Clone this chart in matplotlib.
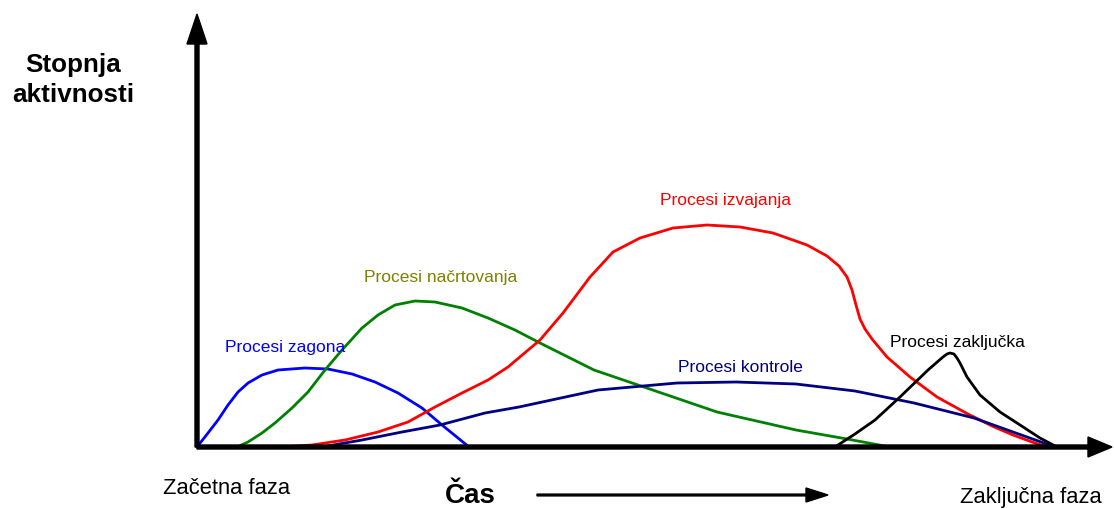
import matplotlib
matplotlib.use('Agg')
import matplotlib.pyplot as plt

plt.rcParams['font.family'] = ['Liberation Sans', 'DejaVu Sans']

# curves: time (t) and activity level (a)
zagonT = [0, 11, 21, 31, 41, 51, 65, 81, 108, 131, 155, 178, 201, 225, 245, 261, 272]
zagonA = [0, 14, 27, 42, 55, 64, 72, 77, 79, 78, 73, 65, 54, 39, 22, 9, 0]

nacrtT = [40, 51, 65, 78, 95, 111, 128, 145, 165, 181, 198, 218, 238, 265, 291, 318,
          343, 397, 441, 520, 599, 650, 693]
nacrtA = [0, 5, 14, 24, 39, 55, 77, 97, 119, 132, 142, 146, 145, 139, 129, 117,
          104, 77, 62, 35, 17, 8, 0]

izvT = [83, 115, 148, 181, 211, 238, 265, 291, 311, 343, 366, 393, 416, 443, 476, 510, 543,
        576, 610, 630, 642, 650, 655, 659, 663, 668, 675, 690, 713, 740, 769, 795, 816, 835, 850]
izvA = [0, 2, 7, 15, 25, 40, 54, 67, 80, 107, 134, 170, 195, 209, 219, 222, 220,
        214, 202, 191, 181, 170, 157, 142, 128, 118, 108, 90, 70, 50, 34, 21, 12, 5, 0]

kontT = [40, 81, 125, 165, 205, 243, 288, 322, 401, 480, 539, 599, 658, 717, 777, 816, 858]
kontA = [0, 0, 0, 7, 15, 22, 34, 40, 57, 64, 65, 63, 56, 44, 29, 15, 0]

zaklT = [638, 658, 678, 703, 731, 746, 750, 753, 757, 760, 763, 770, 783, 803, 820, 843, 860]
zaklA = [0, 13, 27, 50, 77, 90, 93, 94, 93, 89, 84, 70, 52, 35, 24, 9, 0]

fig = plt.figure(figsize=(11.14, 5.09), dpi=100)
ax = fig.add_axes([0, 0, 1, 1])
ax.set_xlim(-197, 917)
ax.set_ylim(-62, 447)
ax.axis('off')

lw = 2.0
ax.plot(zagonT, zagonA, color='#0000ff', lw=lw, solid_joinstyle='round', zorder=3)
ax.plot(nacrtT, nacrtA, color='#008000', lw=lw, solid_joinstyle='round', zorder=3)
ax.plot(izvT, izvA, color='#ff0000', lw=lw, solid_joinstyle='round', zorder=3)
ax.plot(kontT, kontA, color='#000080', lw=lw, solid_joinstyle='round', zorder=3)
ax.plot(zaklT, zaklA, color='black', lw=lw, solid_joinstyle='round', zorder=3)

# axes as arrows
ax.arrow(0, 0, 0, 433, width=4, head_width=20, head_length=30,
         length_includes_head=True, color='black', zorder=4)
ax.arrow(0, 0, 915, 0, width=4, head_width=20, head_length=24,
         length_includes_head=True, color='black', zorder=4)
ax.arrow(340, -48, 291, 0, width=1.8, head_width=14, head_length=22,
         length_includes_head=True, color='black')

fs = 12.5
ax.text(88, 95, 'Procesi zagona', color='#0000ff', fontsize=fs, ha='center', va='baseline')
ax.text(244, 165, 'Procesi načrtovanja', color='#808000', fontsize=fs, ha='center', va='baseline')
ax.text(528, 242, 'Procesi izvajanja', color='#ff0000', fontsize=fs, ha='center', va='baseline')
ax.text(543, 75, 'Procesi kontrole', color='#000080', fontsize=fs, ha='center', va='baseline')
ax.text(760, 100, 'Procesi zaključka', color='black', fontsize=fs, ha='center', va='baseline')

ax.text(-124, 375, 'Stopnja', fontsize=18.7, fontweight='bold', ha='center', va='baseline')
ax.text(-124, 345, 'aktivnosti', fontsize=18.7, fontweight='bold', ha='center', va='baseline')

ax.text(30, -41, 'Začetna faza', fontsize=15.8, ha='center', va='center')
ax.text(834, -51, 'Zaključna faza', fontsize=15.8, ha='center', va='center')
ax.text(273, -56, 'Čas', fontsize=20, fontweight='bold', ha='center', va='baseline')

fig.savefig('out.png', dpi=100)
